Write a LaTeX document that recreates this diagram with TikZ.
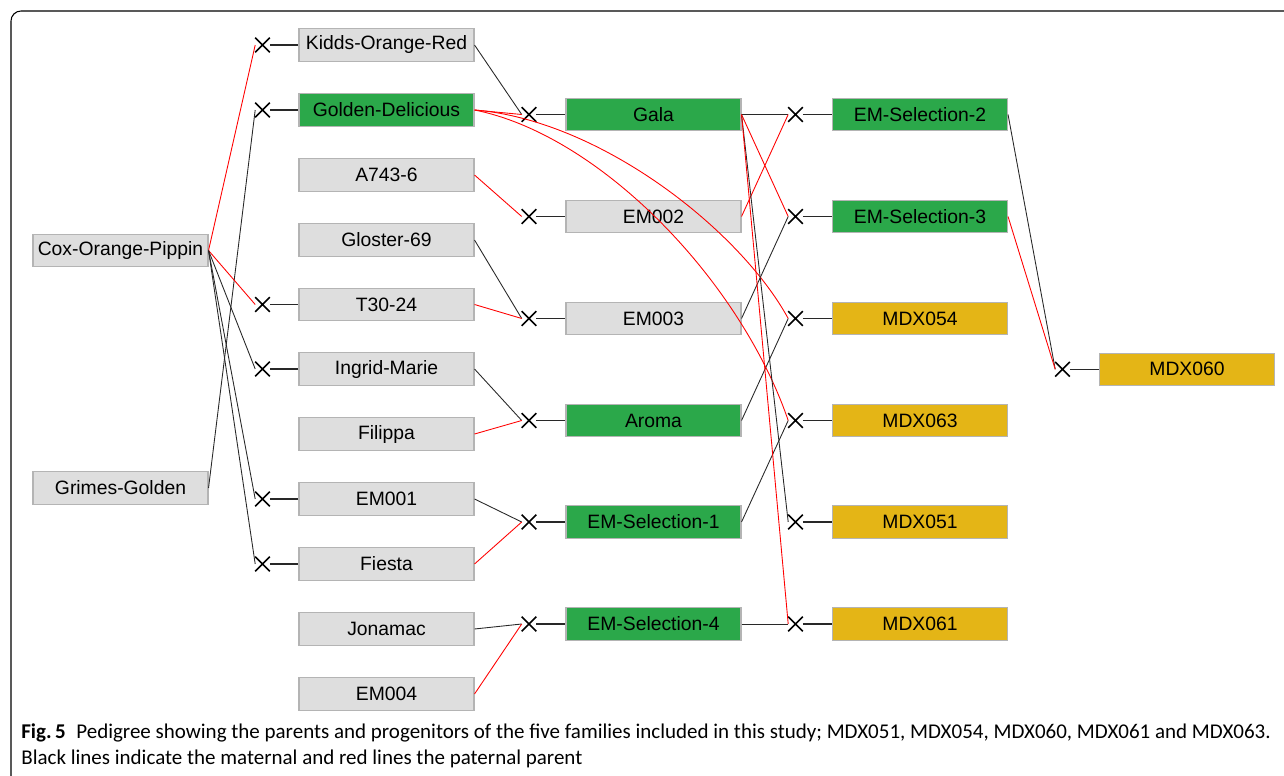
\documentclass[tikz,border=0pt]{standalone}
\usepackage{fontspec}
\setmainfont{Liberation Sans}
\setsansfont{Liberation Sans}
\newfontfamily\capfont{Carlito}
\usepackage{xcolor}
\usepackage{tikz}
\usetikzlibrary{shapes.misc,positioning}

\definecolor{boxgrey}{RGB}{222,222,222}
\definecolor{boxline}{RGB}{180,180,180}
\definecolor{selgreen}{RGB}{43,168,74}
\definecolor{famyellow}{RGB}{228,181,22}
\definecolor{matgrey}{RGB}{40,40,40}

\tikzset{
  parent/.style={draw=boxline, fill=boxgrey, line width=0.6pt, minimum width=35mm, minimum height=6.5mm, inner sep=0pt, font=\fontsize{11}{13}\selectfont},
  selection/.style={parent, fill=selgreen},
  family/.style={parent, fill=famyellow},
  crossing/.style={cross out, draw=black, line width=0.9pt, minimum size=2.6mm, inner sep=0pt},
  maternal/.style={draw=matgrey, line width=0.5pt},
  paternal/.style={draw=red, line width=0.5pt},
  stem/.style={draw=matgrey, line width=0.6pt}
}

\begin{document}
\begin{tikzpicture}[x=0.2mm, y=-0.2mm]

\clip (0,0) rectangle (1284,776);
\draw[line width=0.6pt, rounded corners=2mm] (11,11) rectangle (1310,800);

\node[parent] (CoxOrangePippin) at (120.5,250.5) {Cox-Orange-Pippin};
\node[parent] (GrimesGolden) at (120.5,488) {Grimes-Golden};

\node[parent] (KiddsOrangeRed) at (386.5,45) {Kidds-Orange-Red};
\node[selection] (GoldenDelicious) at (386.5,110) {Golden-Delicious};
\node[parent] (AsevenFourThree) at (386.5,175) {A743-6};
\node[parent] (GlosterSixtyNine) at (386.5,240) {Gloster-69};
\node[parent] (TThirtyTwentyFour) at (386.5,304.5) {T30-24};
\node[parent] (IngridMarie) at (386.5,369) {Ingrid-Marie};
\node[parent] (Filippa) at (386.5,434) {Filippa};
\node[parent] (EMzeroOne) at (386.5,499) {EM001};
\node[parent] (Fiesta) at (386.5,564) {Fiesta};
\node[parent] (Jonamac) at (386.5,629) {Jonamac};
\node[parent] (EMzeroFour) at (386.5,694) {EM004};

\node[selection] (Gala) at (653.5,114.5) {Gala};
\node[parent] (EMzeroTwo) at (653.5,216.5) {EM002};
\node[parent] (EMzeroThree) at (653.5,318.5) {EM003};
\node[selection] (Aroma) at (653.5,420.5) {Aroma};
\node[selection] (EMSelectionOne) at (653.5,522) {EM-Selection-1};
\node[selection] (EMSelectionFour) at (653.5,624) {EM-Selection-4};

\node[selection] (EMSelectionTwo) at (920,114.5) {EM-Selection-2};
\node[selection] (EMSelectionThree) at (920,216.5) {EM-Selection-3};
\node[family] (MDXfiftyFour) at (920,318.5) {MDX054};
\node[family] (MDXsixtyThree) at (920,420.5) {MDX063};
\node[family] (MDXfiftyOne) at (920,522) {MDX051};
\node[family] (MDXsixtyOne) at (920,624) {MDX061};

\node[family] (MDXsixty) at (1187,369.3) {MDX060};

\node[crossing] (xKiddsOrangeRed) at (262.5,45) {};
\node[crossing] (xGoldenDelicious) at (262.5,110) {};
\node[crossing] (xTThirtyTwentyFour) at (262.5,304.5) {};
\node[crossing] (xIngridMarie) at (262.5,369) {};
\node[crossing] (xEMzeroOne) at (262.5,499) {};
\node[crossing] (xFiesta) at (262.5,564) {};

\node[crossing] (xGala) at (529,114.5) {};
\node[crossing] (xEMzeroTwo) at (529,216.5) {};
\node[crossing] (xEMzeroThree) at (529,318.5) {};
\node[crossing] (xAroma) at (529,420.5) {};
\node[crossing] (xEMSelectionOne) at (529,522) {};
\node[crossing] (xEMSelectionFour) at (529,624) {};

\node[crossing] (xEMSelectionTwo) at (795.5,114.5) {};
\node[crossing] (xEMSelectionThree) at (795.5,216.5) {};
\node[crossing] (xMDXfiftyFour) at (795.5,318.5) {};
\node[crossing] (xMDXsixtyThree) at (795.5,420.5) {};
\node[crossing] (xMDXfiftyOne) at (795.5,522) {};
\node[crossing] (xMDXsixtyOne) at (795.5,624) {};

\node[crossing] (xMDXsixty) at (1062.5,369.3) {};

\foreach \child in {KiddsOrangeRed,GoldenDelicious,TThirtyTwentyFour,IngridMarie,EMzeroOne,Fiesta,Gala,EMzeroTwo,EMzeroThree,Aroma,EMSelectionOne,EMSelectionFour,EMSelectionTwo,EMSelectionThree,MDXfiftyFour,MDXsixtyThree,MDXfiftyOne,MDXsixtyOne,MDXsixty}
  \draw[stem] (x\child.east) -- (\child.west);

\draw[paternal] (CoxOrangePippin.east) -- (xKiddsOrangeRed.west);
\draw[maternal] (GrimesGolden.east) -- (xGoldenDelicious.west);
\draw[paternal] (CoxOrangePippin.east) -- (xTThirtyTwentyFour.west);
\draw[maternal] (CoxOrangePippin.east) -- (xIngridMarie.west);
\draw[maternal] (CoxOrangePippin.east) -- (xEMzeroOne.west);
\draw[maternal] (CoxOrangePippin.east) -- (xFiesta.west);

\draw[maternal] (KiddsOrangeRed.east) -- (xGala.west);
\draw[paternal] (GoldenDelicious.east) -- (xGala.west);
\draw[paternal] (AsevenFourThree.east) -- (xEMzeroTwo.west);
\draw[maternal] (GlosterSixtyNine.east) -- (xEMzeroThree.west);
\draw[paternal] (TThirtyTwentyFour.east) -- (xEMzeroThree.west);
\draw[maternal] (IngridMarie.east) -- (xAroma.west);
\draw[paternal] (Filippa.east) -- (xAroma.west);
\draw[maternal] (EMzeroOne.east) -- (xEMSelectionOne.west);
\draw[paternal] (Fiesta.east) -- (xEMSelectionOne.west);
\draw[maternal] (Jonamac.east) -- (xEMSelectionFour.west);
\draw[paternal] (EMzeroFour.east) -- (xEMSelectionFour.west);

\draw[maternal] (Gala.east) -- (xEMSelectionTwo.west);
\draw[paternal] (EMzeroTwo.east) -- (xEMSelectionTwo.west);
\draw[paternal] (Gala.east) -- (xEMSelectionThree.west);
\draw[maternal] (EMzeroThree.east) -- (xEMSelectionThree.west);
\draw[paternal] (GoldenDelicious.east) .. controls (600,120) and (740,230) .. (xMDXfiftyFour.west);
\draw[maternal] (Aroma.east) -- (xMDXfiftyFour.west);
\draw[paternal] (GoldenDelicious.east) .. controls (600,135) and (740,280) .. (xMDXsixtyThree.west);
\draw[maternal] (EMSelectionOne.east) -- (xMDXsixtyThree.west);
\draw[maternal] (Gala.east) -- (xMDXfiftyOne.west);
\draw[paternal] (Gala.east) -- (xMDXsixtyOne.west);
\draw[maternal] (EMSelectionFour.east) -- (xMDXsixtyOne.west);

\draw[maternal] (EMSelectionTwo.east) -- (xMDXsixty.west);
\draw[paternal] (EMSelectionThree.east) -- (xMDXsixty.west);

\node[anchor=base west, align=left, inner sep=0pt, font=\capfont\fontsize{11.95}{14.6}\selectfont] (caption) at (21,764)
  {\textbf{Fig.\,5}\enspace Pedigree showing the parents and progenitors of the five families included in this study; MDX051, MDX054, MDX060, MDX061 and MDX063.\\
   Black lines indicate the maternal and red lines the paternal parent};

\end{tikzpicture}
\end{document}
